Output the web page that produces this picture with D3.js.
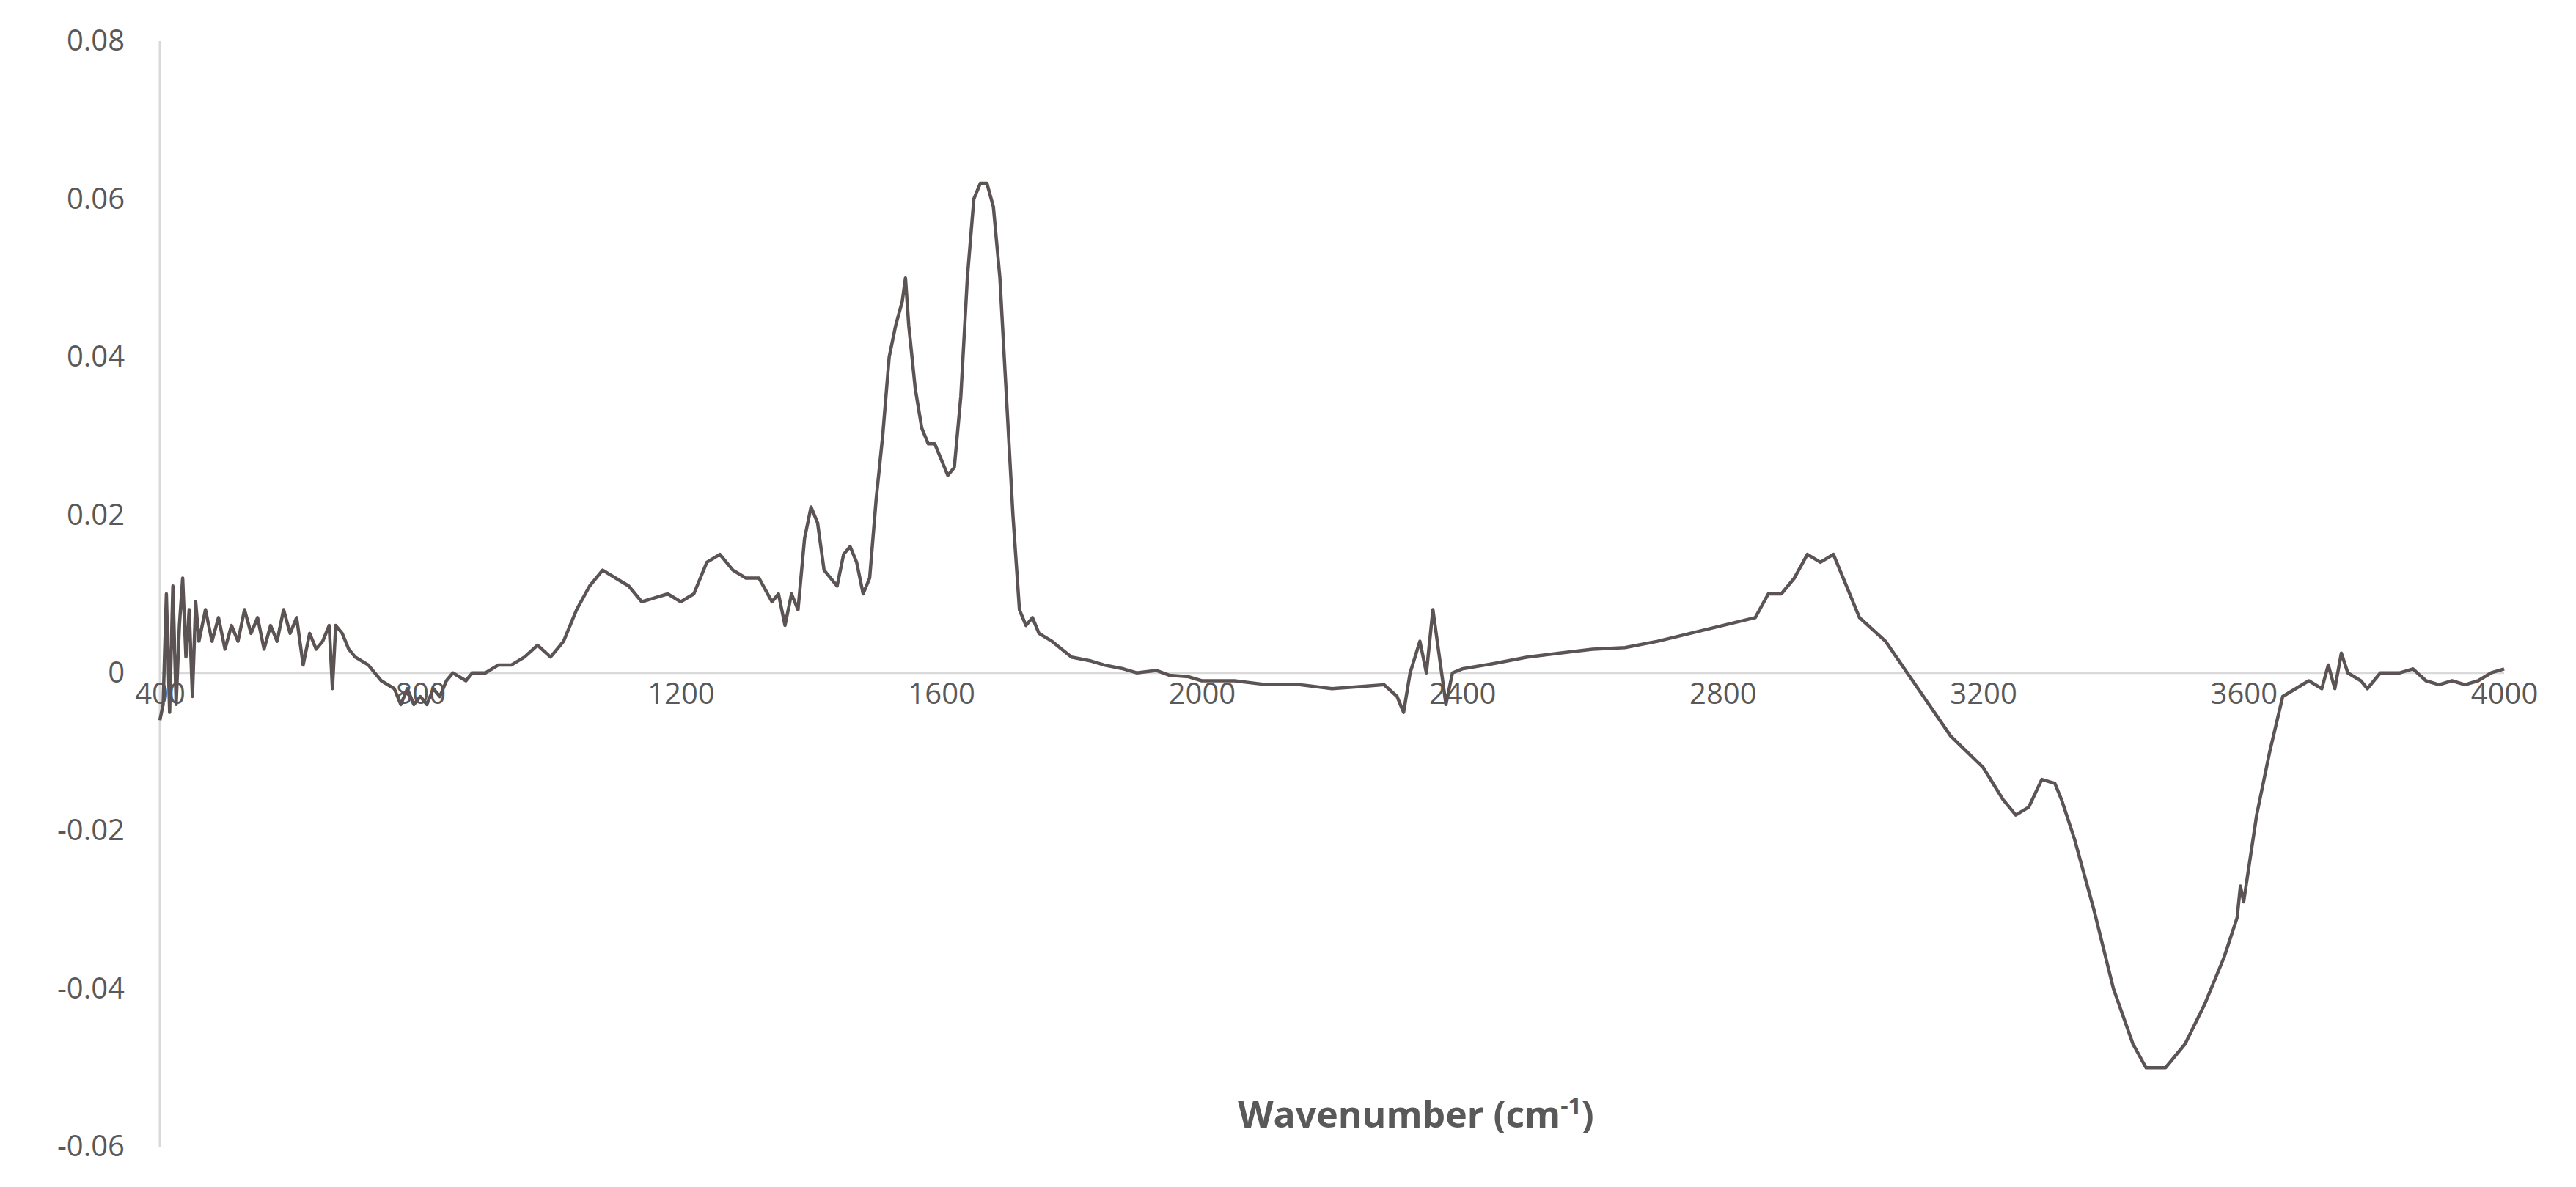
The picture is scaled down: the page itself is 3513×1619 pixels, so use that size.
<!DOCTYPE html>
<html lang="en">
<head>
<meta charset="UTF-8">
<title>FTIR Spectrum</title>
<script src="https://d3js.org/d3.v7.min.js"></script>
<style>
  body { margin: 0; background: #fff; }
  .tick text { font-family: "Open Sans", sans-serif; font-size: 40px; fill: #595959; }
</style>
</head>
<body>
<div id="chart"></div>
<script>
// wavenumber (cm-1) and absorbance
const wavenumbers = [
  400,405,410,415,420,425,430,435,440,445,450,455,460,470,480,490,500,510,520,530,540,550,560,570,580,590,600,610,620,630,640,650,660,665,670,680,690,700,
  720,740,760,770,780,790,800,810,820,830,840,850,870,880,900,920,940,960,980,1000,1020,1040,1060,1080,1100,1120,1140,1160,1180,1200,1220,1240,1260,1280,1300,1320,1340,1350,1360,1370,1380,1390,1400,1410,1420,1440,1450,1460,1470,1480,1490,
  1500,1510,1520,1530,1540,1545,1550,1560,1570,1580,1590,1600,1610,1620,1630,1640,1650,1660,1670,1680,1690,1700,1710,1720,1730,1740,1750,1770,1800,1830,1850,1880,1900,1930,1950,1980,2000,2050,2100,2150,2200,2250,2280,2300,2310,2320,2335,2345,2355,2365,2375,2385,2400,
  2450,2500,2550,2600,2650,2700,2750,2800,2850,2870,2890,2910,2930,2950,2970,2990,3010,3050,3100,3150,3200,3230,3250,3270,3290,3310,3320,3340,3370,3400,3430,3450,3480,3510,3540,3570,3590,3595,3600,3620,3640,3660,3680,3700,3720,3730,3740,3750,3760,3780,3790,3810,3840,3860,3880,3900,3920,3940,3960,3980,4000
];
const absorbance = [
  -0.006,-0.004,0.010,-0.005,0.011,-0.004,0.006,0.012,0.002,0.008,-0.003,0.009,0.004,0.008,0.004,0.007,0.003,0.006,0.004,0.008,0.005,0.007,0.003,0.006,0.004,0.008,0.005,0.007,0.001,0.005,0.003,0.004,0.006,-0.002,0.006,0.005,0.003,0.002,
  0.001,-0.001,-0.002,-0.004,-0.002,-0.004,-0.003,-0.004,-0.002,-0.003,-0.001,0.000,-0.001,0.000,0.000,0.001,0.001,0.002,0.0035,0.002,0.004,0.008,0.011,0.013,0.012,0.011,0.009,0.0095,0.010,0.009,0.010,0.014,0.015,0.013,0.012,0.012,0.009,0.010,0.006,0.010,0.008,0.017,0.021,0.019,0.013,0.011,0.015,0.016,0.014,0.010,0.012,
  0.022,0.030,0.040,0.044,0.047,0.050,0.044,0.036,0.031,0.029,0.029,0.027,0.025,0.026,0.035,0.050,0.060,0.062,0.062,0.059,0.050,0.035,0.020,0.008,0.006,0.007,0.005,0.004,0.002,0.0015,0.001,0.0005,0.000,0.0003,-0.0003,-0.0005,-0.001,-0.001,-0.0015,-0.0015,-0.002,-0.0017,-0.0015,-0.003,-0.005,0.000,0.004,0.000,0.008,0.002,-0.004,0.000,0.0005,
  0.0012,0.002,0.0025,0.003,0.0032,0.004,0.005,0.006,0.007,0.010,0.010,0.012,0.015,0.014,0.015,0.011,0.007,0.004,-0.002,-0.008,-0.012,-0.016,-0.018,-0.017,-0.0135,-0.014,-0.016,-0.021,-0.030,-0.040,-0.047,-0.050,-0.050,-0.047,-0.042,-0.036,-0.031,-0.027,-0.029,-0.018,-0.010,-0.003,-0.002,-0.001,-0.002,0.001,-0.002,0.0025,0.000,-0.001,-0.002,0.000,0.000,0.0005,-0.001,-0.0015,-0.001,-0.0015,-0.001,0.000,0.0005
];
const xTicks = [400, 800, 1200, 1600, 2000, 2400, 2800, 3200, 3600, 4000];
const yTicks = [-0.06, -0.04, -0.02, 0, 0.02, 0.04, 0.06, 0.08];

const W = 3513, H = 1619;
const plotLeft = 218, plotRight = 3415, plotTop = 56, plotBottom = 1564;

const svg = d3.select("#chart").append("svg").attr("width", W).attr("height", H);

const x = d3.scaleLinear().domain([400, 4000]).range([plotLeft, plotRight]);
const y = d3.scaleLinear().domain([-0.06, 0.08]).range([plotBottom, plotTop]);

// vertical axis line
svg.append("line")
  .attr("x1", plotLeft).attr("x2", plotLeft).attr("y1", plotTop).attr("y2", plotBottom)
  .style("stroke", "#d9d9d9").style("stroke-width", 3);

// y tick labels
const yAxis = svg.append("g")
  .attr("transform", `translate(${plotLeft - 45},0)`)
  .call(d3.axisLeft(y).tickValues(yTicks).tickSize(0)
    .tickFormat(d => d === 0 ? "0" : d.toFixed(2)));
yAxis.select(".domain").remove();

// horizontal zero line with x labels beneath
svg.append("line")
  .attr("x1", plotLeft).attr("x2", plotRight).attr("y1", y(0)).attr("y2", y(0))
  .style("stroke", "#d9d9d9").style("stroke-width", 3);
const xAxis = svg.append("g")
  .attr("transform", `translate(0,${y(0)})`)
  .call(d3.axisBottom(x).tickValues(xTicks).tickSize(0).tickPadding(14).tickFormat(d => String(d)));
xAxis.select(".domain").remove();

const data = wavenumbers.map((w, i) => ({ w: w, a: absorbance[i] })).filter(d => d.a !== undefined);
svg.append("path")
  .datum(data)
  .attr("d", d3.line().x(d => x(d.w)).y(d => y(d.a)))
  .style("fill", "none").style("stroke", "#5b5354").style("stroke-width", 4.5)
  .style("stroke-linejoin", "round");

const title = svg.append("text")
  .attr("x", 1931).attr("y", 1538)
  .attr("text-anchor", "middle")
  .style("font-family", "'Open Sans', sans-serif").style("font-weight", "bold")
  .style("font-size", "50px").style("fill", "#595959");
title.append("tspan").text("Wavenumber (cm");
title.append("tspan").attr("dy", -18).style("font-size", "32px").text("-1");
title.append("tspan").attr("dy", 18).text(")");
</script>
</body>
</html>
